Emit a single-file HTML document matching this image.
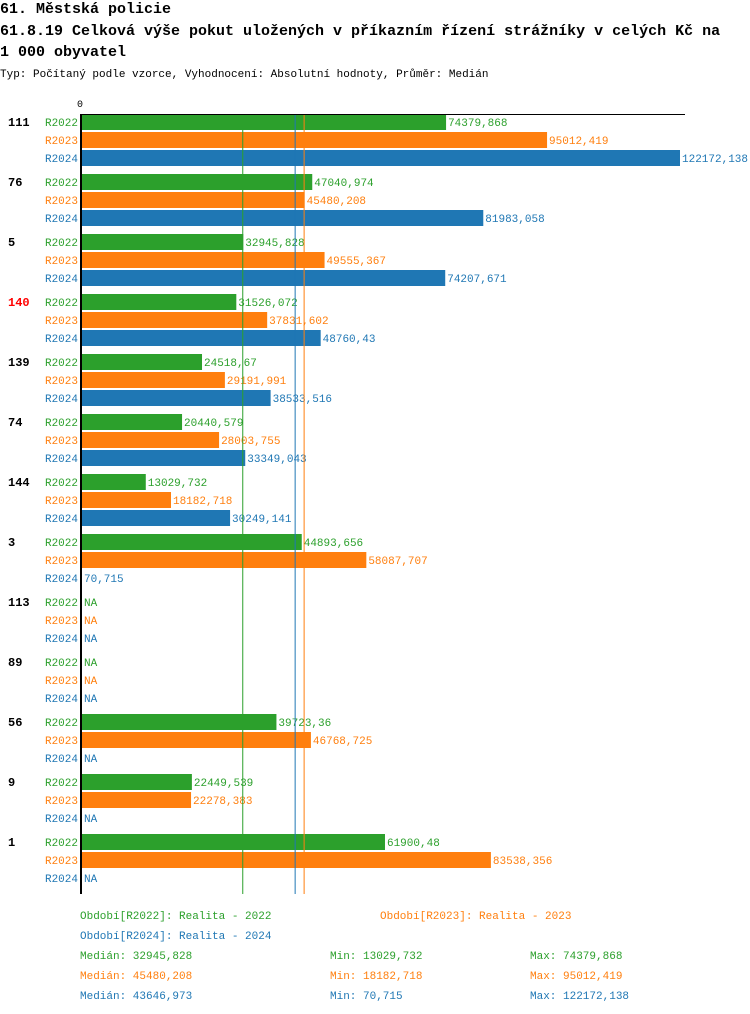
<!DOCTYPE html>
<html><head><meta charset="utf-8"><style>
body{margin:0;background:#fff;width:750px;height:1014px;overflow:hidden}
svg{display:block}
text{font-family:"Liberation Mono",monospace}
</style></head><body>
<svg id="c" width="750" height="1014">
<text x="0" y="13" font-size="15" font-weight="bold">61. Městská policie</text>
<text x="0" y="35" font-size="15" font-weight="bold">61.8.19 Celková výše pokut uložených v příkazním řízení strážníky v celých Kč na</text>
<text x="0" y="56" font-size="15" font-weight="bold">1 000 obyvatel</text>
<text x="0" y="77" font-size="11">Typ: Počítaný podle vzorce, Vyhodnocení: Absolutní hodnoty, Průměr: Medián</text>
<text x="80" y="107" font-size="10" text-anchor="middle">0</text>
<g id="plot"></g>
<g font-size="11">
<text x="80" y="919" fill="#2ca02c">Období[R2022]: Realita - 2022</text>
<text x="380" y="919" fill="#ff7f0e">Období[R2023]: Realita - 2023</text>
<text x="80" y="939" fill="#1f77b4">Období[R2024]: Realita - 2024</text>
<text x="80" y="959" fill="#2ca02c">Medián: 32945,828</text>
<text x="330" y="959" fill="#2ca02c">Min: 13029,732</text>
<text x="530" y="959" fill="#2ca02c">Max: 74379,868</text>
<text x="80" y="979" fill="#ff7f0e">Medián: 45480,208</text>
<text x="330" y="979" fill="#ff7f0e">Min: 18182,718</text>
<text x="530" y="979" fill="#ff7f0e">Max: 95012,419</text>
<text x="80" y="999" fill="#1f77b4">Medián: 43646,973</text>
<text x="330" y="999" fill="#1f77b4">Min: 70,715</text>
<text x="530" y="999" fill="#1f77b4">Max: 122172,138</text>
</g>
</svg>
<script>
const categories=["111","76","5","140","139","74","144","3","113","89","56","9","1"];
const highlighted=["140"];
const seriesNames=["R2022","R2023","R2024"];
const r2022=[74379.868,47040.974,32945.828,31526.072,24518.67,20440.579,13029.732,44893.656,null,null,39723.36,22449.539,61900.48];
const r2023=[95012.419,45480.208,49555.367,37831.602,29191.991,28003.755,18182.718,58087.707,null,null,46768.725,22278.383,83538.356];
const r2024=[122172.138,81983.058,74207.671,48760.43,38533.516,33349.043,30249.141,70.715,null,null,null,null,null];
const medians=[32945.828,45480.208,43646.973];
const maxValue=122172.138;
const colors=["#2ca02c","#ff7f0e","#1f77b4"];
const series=[r2022,r2023,r2024];
const NS="http://www.w3.org/2000/svg";
const g=document.getElementById('plot');
const x0=82, topY=114, groupH=60, rowH=18;
const xs=v=>x0+v/maxValue*598;
const rowY=(gi,si)=>topY+8+gi*groupH+si*rowH;
function mk(t,a){const e=document.createElementNS(NS,t);for(const k in a)e.setAttribute(k,a[k]);g.appendChild(e);return e;}
const bottomY=topY+categories.length*groupH;
categories.forEach((c,gi)=>{
 const t=mk('text',{x:8,y:rowY(gi,0)+4,'font-size':12,'font-weight':'bold',fill:highlighted.includes(c)?'#ff0000':'#000'});
 t.textContent=c;
 
 
 series.forEach((s,si)=>{
  const y=rowY(gi,si);
  const lb=mk('text',{x:78,y:y+4,'font-size':11,'text-anchor':'end',fill:colors[si]});
  lb.textContent=seriesNames[si];
  
  
  const v=s[gi];
  let endX=x0;
  if(v!==null){
   const w=xs(v)-x0;
   if(w>=1){
    const r=mk('rect',{x:x0,y:y-8,width:w,height:16,fill:colors[si]});
    
    
    endX=x0+w;
   }
  }
  const vt=mk('text',{x:endX+2,y:y+4,'font-size':11,fill:colors[si]});
  vt.textContent=v===null?'NA':String(v).replace('.',',');
  
  
 });
});
medians.forEach((m,i)=>{
 const l=mk('line',{x1:xs(m)-0.5,x2:xs(m)-0.5,y1:topY,y2:bottomY,stroke:colors[i],'stroke-width':1});
 
 
});
const ax=mk('line',{x1:80,x2:685,y1:topY+0.5,y2:topY+0.5,stroke:'#000','stroke-width':1});


const ay=mk('rect',{x:80,y:topY,width:2,height:bottomY-topY,fill:'#000'});


</script>
</body></html>
